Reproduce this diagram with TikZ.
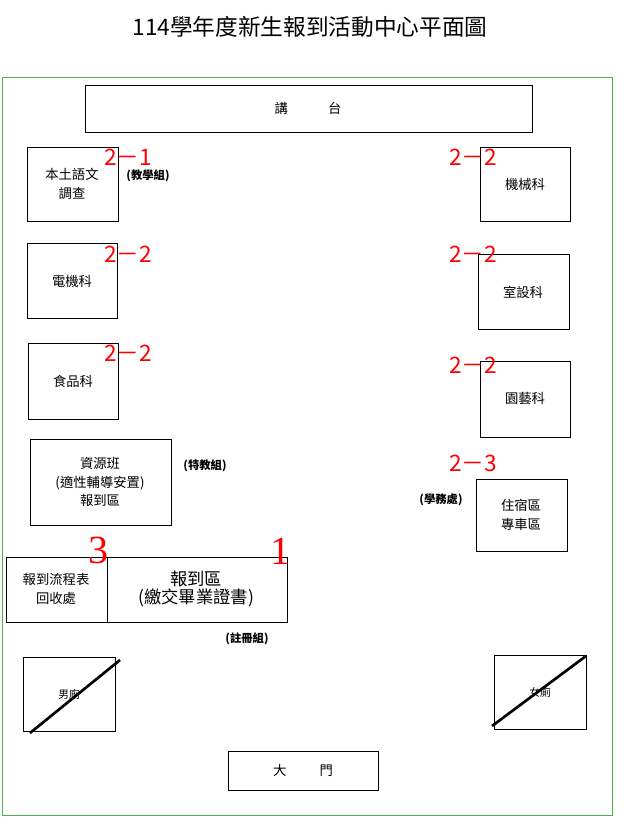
\documentclass[tikz,border=0pt]{standalone}
\usepackage{fontspec}
\setmainfont{Liberation Serif}
\newfontfamily\cjk{Noto Sans CJK TC}
\begin{document}
\begin{tikzpicture}
[x=0.75pt,y=-0.75pt,every node/.style={font=\cjk\fontsize{10}{14}\selectfont,align=center},
 room/.style={draw,thin,inner sep=0pt},
 num/.style={text=red,font=\cjk\fontsize{17}{17}\selectfont},
 grp/.style={font=\cjk\bfseries\fontsize{8.5}{10}\selectfont}]
  \useasboundingbox (0,0) rectangle (627,832);
  \node (title) at (310,27) {\cjk\fontsize{17}{20}\selectfont 114學年度新生報到活動中心平面圖};
  \draw[green!40!gray] (2,77) rectangle (612,815);
  % podium
  \draw (85,85) rectangle (532,132);
  \node (podium) at (308,108) {講\hspace{3em}台};
  % left rooms
  \draw (27,147) rectangle (118,221);
  \node (lang) at (72,184) {本土語文\\調查};
  \node[num] (n1) at (128,157) {2－1};
  \node[grp] (g1) at (148,176) {(教學組)};
  \draw (27,243) rectangle (117,318);
  \node (elec) at (72,281) {電機科};
  \node[num] (n2) at (128,254) {2－2};
  \draw (28,343) rectangle (118,419);
  \node (food) at (73,381) {食品科};
  \node[num] (n3) at (128,353) {2－2};
  \draw (30,439) rectangle (171,525);
  \node (res) at (100,482) {資源班\\(適性輔導安置)\\報到區};
  \node[grp] (g2) at (205,466) {(特教組)};
  % right rooms
  \draw (480,147) rectangle (570,221);
  \node (mech) at (525,184) {機械科};
  \node[num] (n4) at (473,157) {2－2};
  \draw (478,254) rectangle (569,329);
  \node (des) at (523,292) {室設科};
  \node[num] (n5) at (473,254) {2－2};
  \draw (480,361) rectangle (570,437);
  \node (hort) at (525,399) {園藝科};
  \node[num] (n6) at (473,365) {2－2};
  \draw (476,479) rectangle (567,551);
  \node (dorm) at (521,515) {住宿區\\專車區};
  \node[num] (n7) at (473,463) {2－3};
  \node[grp] (g3) at (441,500) {(學務處)};
  % registration
  \draw (6,557) rectangle (107,622);
  \draw (107,557) rectangle (287,622);
  \node (flow) at (56,589) {報到流程表\\回收處};
  \node (reg) at (196,589) {\fontsize{13}{18}\selectfont 報到區\\\fontsize{13}{18}\selectfont(繳交畢業證書)};
  \node[text=red,font=\fontsize{30}{30}\selectfont] (n8) at (98,550) {3};
  \node[text=red,font=\fontsize{30}{30}\selectfont] (n9) at (280,551) {1};
  \node[grp] (g4) at (247,639) {(註冊組)};
  % toilets
  \draw (23,657) rectangle (115,731);
  \node[font=\cjk\fontsize{8}{10}\selectfont] (men) at (69,694) {男廁};
  \draw[line width=2pt] (30,733) -- (120,660);
  \draw (494,655) rectangle (586,729);
  \node[font=\cjk\fontsize{8}{10}\selectfont] (women) at (540,692) {女廁};
  \draw[line width=2pt] (492,726) -- (586,656);
  % gate
  \draw (228,751) rectangle (378,790);
  \node (gate) at (303,770) {大\hspace{2.5em}門};
\end{tikzpicture}
\end{document}
